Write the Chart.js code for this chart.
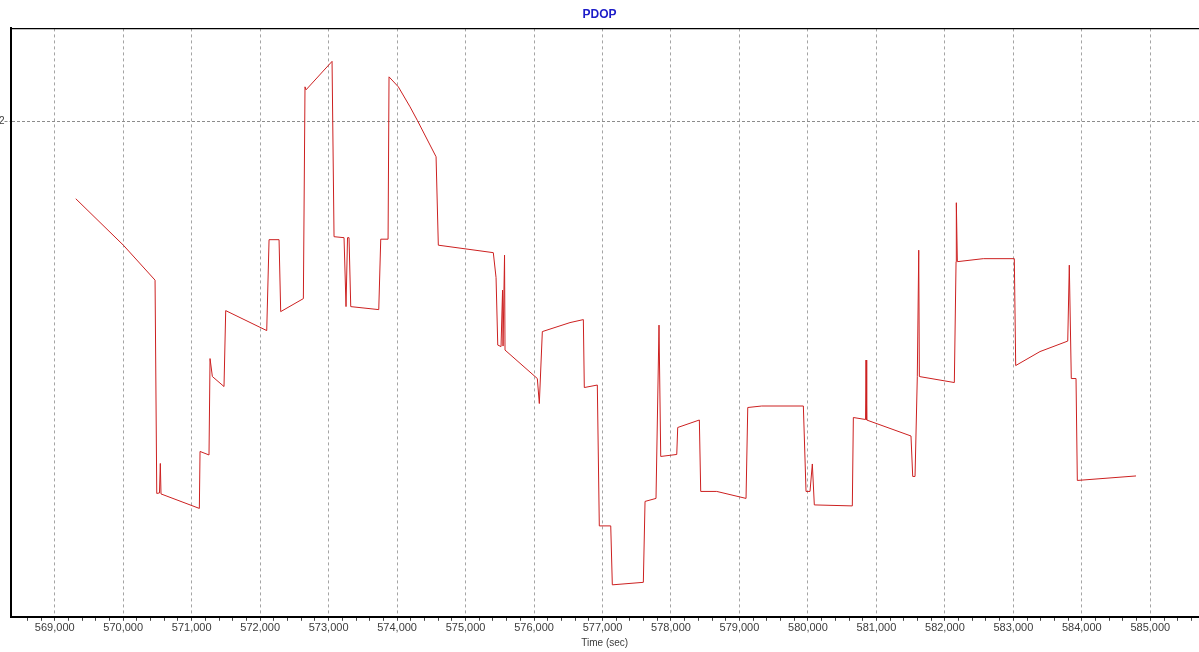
<!DOCTYPE html>
<html>
<head>
<meta charset="utf-8">
<title>PDOP</title>
<script src="https://cdn.jsdelivr.net/npm/chart.js@4"></script>
<style>
  html, body { margin: 0; padding: 0; background: #ffffff; overflow: hidden; }
  #c { display: block; }
</style>
</head>
<body>
<canvas id="c" width="1199" height="652"></canvas>
<script>
// PDOP samples over GPS time of week (seconds)
const timeSec = [
  569307, 570002, 570465, 570490, 570530, 570542, 570552, 570563, 571112, 571122,
  571253, 571268, 571302, 571472, 571497, 572096, 572130, 572276, 572300, 572631,
  572655, 572670, 573050, 573079, 573225, 573254, 573276, 573298, 573323, 573732,
  573761, 573868, 573882, 574018, 574189, 574295, 574569, 574602, 575405, 575445,
  575470, 575518, 575540, 575547, 575569, 575576, 576048, 576077, 576121, 576525,
  576720, 576734, 576924, 576953, 577120, 577143, 577596, 577621, 577781, 577825,
  577850, 578084, 578098, 578414, 578434, 578668, 579096, 579121, 579325, 579933,
  579972, 580030, 580064, 580093, 580648, 580663, 580841, 580848, 580858, 581505,
  581530, 581564, 581597, 581618, 581627, 582138, 582163, 582167, 582182, 582561,
  583014, 583034, 583389, 583794, 583817, 583846, 583915, 583934, 584791
];
const pdop = [
  1.845, 1.752, 1.682, 1.255, 1.256, 1.315, 1.254, 1.254, 1.225, 1.339,
  1.332, 1.525, 1.489, 1.469, 1.621, 1.581, 1.763, 1.763, 1.619, 1.645,
  2.069, 2.063, 2.120, 1.769, 1.767, 1.629, 1.767, 1.767, 1.629, 1.623,
  1.764, 1.764, 2.089, 2.069, 2.029, 2.002, 1.929, 1.752, 1.737, 1.687,
  1.552, 1.549, 1.662, 1.550, 1.732, 1.542, 1.485, 1.435, 1.579, 1.597,
  1.603, 1.467, 1.472, 1.190, 1.190, 1.072, 1.077, 1.239, 1.245, 1.592,
  1.329, 1.333, 1.387, 1.402, 1.259, 1.259, 1.245, 1.427, 1.430, 1.430,
  1.259, 1.259, 1.314, 1.232, 1.230, 1.407, 1.403, 1.522, 1.402, 1.370,
  1.289, 1.289, 1.489, 1.742, 1.489, 1.477, 1.719, 1.837, 1.719, 1.725,
  1.725, 1.511, 1.539, 1.560, 1.712, 1.485, 1.485, 1.281, 1.290
];

// Axis ticks
const xMajorTicks = [569000, 570000, 571000, 572000, 573000, 574000, 575000, 576000,
                     577000, 578000, 579000, 580000, 581000, 582000, 583000, 584000, 585000];
const xMinorStep = 200;
const xMinorFirst = 568600;
const xMinorLast = 585600;
const yTicks = [2];

const xMin = 568354, xMax = 585711;
const yMin = 1.008, yMax = 2.186;

const xTickValues = [];
for (let v = xMinorFirst; v <= xMinorLast; v += xMinorStep) xTickValues.push(v);

Chart.defaults.font.family = "'Liberation Sans', Arial, sans-serif";

new Chart(document.getElementById('c'), {
  type: 'line',
  data: {
    datasets: [{
      label: 'PDOP',
      data: timeSec.map((t, i) => ({ x: t, y: pdop[i] })),
      borderColor: '#cc2020',
      borderWidth: 1,
      pointRadius: 0,
      tension: 0,
      fill: false
    }]
  },
  options: {
    responsive: false,
    animation: false,
    layout: { padding: 0 },
    plugins: {
      legend: { display: false },
      tooltip: { enabled: false },
      title: {
        display: true,
        text: 'PDOP',
        color: '#1c1cc8',
        font: { size: 12, weight: 'bold' },
        padding: { top: 7, bottom: 7 }
      }
    },
    scales: {
      x: {
        type: 'linear',
        position: 'bottom',
        min: xMin,
        max: xMax,
        afterBuildTicks: s => { s.ticks = xTickValues.map(v => ({ value: v })); },
        ticks: {
          autoSkip: false,
          maxRotation: 0,
          minRotation: 0,
          padding: 1,
          color: '#3c3c3c',
          font: { size: 11 },
          callback: v => xMajorTicks.includes(v) ? v.toLocaleString('en-US') : ''
        },
        grid: {
          color: ctx => (ctx.tick && xMajorTicks.includes(ctx.tick.value)) ? '#a4a4a4' : 'rgba(0,0,0,0)',
          lineWidth: 1,
          drawTicks: true,
          tickLength: 4,
          tickColor: '#444444',
          tickWidth: 1,
          tickBorderDash: []
        },
        border: { display: true, color: '#000000', width: 2, dash: [3, 3] },
        title: {
          display: true,
          text: 'Time (sec)',
          color: '#3c3c3c',
          font: { size: 10 },
          padding: { top: 1, bottom: 3 }
        }
      },
      xTop: {
        type: 'linear',
        position: 'top',
        min: xMin,
        max: xMax,
        ticks: { display: false },
        grid: { display: false, drawTicks: false },
        border: { display: true, color: '#000000', width: 1.3 }
      },
      y: {
        type: 'linear',
        position: 'left',
        min: yMin,
        max: yMax,
        afterBuildTicks: s => { s.ticks = yTicks.map(v => ({ value: v })); },
        afterFit: s => { s.width = 10.5; },
        ticks: {
          padding: 0,
          color: '#3c3c3c',
          font: { size: 10 },
          callback: v => String(v)
        },
        grid: {
          color: '#8c8c8c',
          lineWidth: 1,
          drawTicks: true,
          tickLength: 6,
          tickColor: '#8c8c8c',
          tickBorderDash: [3, 2]
        },
        border: { display: true, color: '#000000', width: 2, dash: [3, 2] }
      }
    }
  }
});
</script>
</body>
</html>
